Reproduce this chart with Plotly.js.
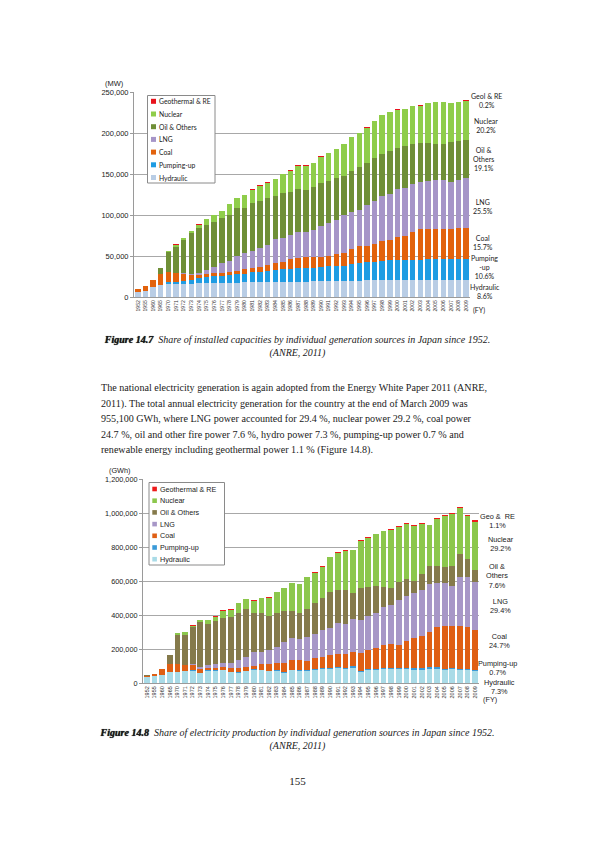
<!DOCTYPE html>
<html>
<head>
<meta charset="utf-8">
<script src="https://cdn.plot.ly/plotly-3.0.1.min.js"></script>
<style>
body{margin:0;width:595px;height:842px;background:#fff;position:relative;overflow:hidden;font-family:"Liberation Serif",serif;color:#1a1a1a}
.plot{position:absolute;left:0;width:595px}
.cap{position:absolute;left:0;width:595px;text-align:center;font-size:10px;line-height:13px;font-style:italic}
.cap b{font-weight:bold;text-shadow:0 0 0.7px #000}
.para{position:absolute;left:101px;font-size:10.1px;line-height:15.5px;white-space:nowrap}
.pageno{position:absolute;left:0;width:595px;text-align:center;font-size:11px}
</style>
</head>
<body>
<div id="plot1" class="plot" style="top:0;height:345px"></div>
<div class="cap" style="top:333px"><b>Figure 14.7</b>&nbsp; Share of installed capacities by individual generation sources in Japan since 1952.<br>(ANRE, 2011)</div>
<div class="para" style="top:380px">The national electricity generation is again adopted from the Energy White Paper 2011 (ANRE,<br>2011). The total annual electricity generation for the country at the end of March 2009 was<br>955,100 GWh, where LNG power accounted for 29.4 %, nuclear power 29.2 %, coal power<br>24.7 %, oil and other fire power 7.6 %, hydro power 7.3 %, pumping-up power 0.7 % and<br>renewable energy including geothermal power 1.1 % (Figure 14.8).</div>
<div id="plot2" class="plot" style="top:455px;height:265px"></div>
<div class="cap" style="top:727px;line-height:12.5px"><b>Figure 14.8</b>&nbsp; Share of electricity production by individual generation sources in Japan since 1952.<br>(ANRE, 2011)</div>
<div class="pageno" style="top:775px">155</div>
<script>
// fiscal years on the category axis (same for both charts)
var years = ['1952','1955','1960','1965',
   '1970','1971','1972','1973','1974','1975','1976','1977','1978','1979',
   '1980','1981','1982','1983','1984','1985','1986','1987','1988','1989',
   '1990','1991','1992','1993','1994','1995','1996','1997','1998','1999',
   '2000','2001','2002','2003','2004','2005','2006','2007','2008','2009'];

var sources = ['Hydraulic','Pumping-up','Coal','LNG','Oil & Others','Nuclear','Geothermal & RE'];

// installed capacity, MW (Figure 14.7)
var capHydraulic = [5700,7700,11800,14600,
   15800,15800,16200,16200,16600,16600,16800,17000,17000,17400,
   17800,17800,18200,18200,18600,18600,18600,18600,18800,19000,
   19000,19200,19400,19600,19800,20000,20200,20300,20400,20400,
   20500,20500,20500,20500,20600,20600,20600,20600,20600,20700];
var capPumping = [0,0,0,0,
   2800,2800,3300,4800,6100,7700,8300,8500,9400,10200,
   10600,12200,12600,13400,13800,15100,15900,16700,16900,16700,
   17000,18100,18300,18400,20200,22000,22300,22200,23600,24200,
   24100,24500,24500,24900,25200,25200,25600,25600,26000,25600];
var capCoal = [3600,5300,8500,13000,
   11400,10200,8100,5800,4100,4100,3700,4100,4000,4000,
   5300,4900,6100,7300,8600,9300,11300,11700,12600,13300,
   12700,12700,14300,16000,18000,20000,20000,22500,24000,24400,
   28800,29600,34000,37300,37700,37700,37300,37300,37400,37700];
var capLNG = [0,0,0,0,
   0,800,1600,1600,2800,4400,8100,11400,13400,17900,
   20300,21100,22300,25100,29200,29200,29600,31700,31200,33000,
   37300,40400,41700,46600,45800,44600,49500,52600,54900,57000,
   58400,58800,58900,58000,58500,59200,59200,56500,58700,61200];
var capOil = [400,300,500,8100,
   25000,31600,40100,49900,54700,54800,54700,55500,56800,59200,
   54700,59200,58000,56800,53100,55100,52700,52700,51500,52000,
   53500,51600,51900,47400,49900,52400,52000,51900,52100,52000,
   50200,50300,48100,47000,46000,44300,44300,49000,47900,45800];
var capNuclear = [0,0,0,0,
   1300,2800,2100,2400,4100,7000,8100,8100,12900,12000,
   15500,15800,18600,18700,20200,22700,25900,28800,29200,29600,
   31500,33100,34900,38500,40900,40600,42600,45100,46600,47600,
   46300,45400,46400,45800,48300,50500,50500,47500,47300,48500];
var capGeo = [0,0,0,0,
   100,100,100,200,200,200,200,200,200,300,
   300,300,300,300,300,300,300,300,400,400,
   400,400,400,400,400,400,400,400,400,400,
   400,400,400,500,500,500,500,500,500,500];
var capShareLabels = ['Geol & RE<br>0.2%','Nuclear<br>20.2%','Oil &<br>Others<br>19.1%',
   'LNG<br>25.5%','Coal<br>15.7%','Pumping<br>-up<br>10.6%','Hydraulic<br>8.6%'];

// electricity generated, GWh (Figure 14.8)
var genHydraulic = [34000,40000,50000,66000,
   65000,69000,73000,58000,72000,72000,74000,63000,59000,69000,
   77000,75000,69000,73000,59000,74000,73000,69000,79000,82000,
   82000,86000,82000,91000,62000,76000,78000,82000,82000,80000,
   80000,79000,79000,83000,83000,76000,80000,74000,74000,70000];
var genPumping = [0,0,0,0,
   1000,1000,2000,2000,2000,2000,2000,3000,3000,3000,
   3000,3000,3000,3000,3000,5000,6000,6000,6000,7000,
   7000,7000,7000,8000,8000,7000,7000,7000,7000,7000,
   7000,8000,8000,10000,10000,9000,9000,8000,8000,7000];
var genCoal = [10000,13000,31000,46000,
   47000,35000,28000,25000,15000,17000,19000,21000,27000,21000,
   19000,31000,39000,41000,54000,59000,55000,57000,63000,65000,
   73000,75000,79000,82000,107000,114000,118000,137000,143000,139000,
   159000,178000,192000,206000,235000,249000,245000,256000,246000,236000];
var genLNG = [0,0,0,0,
   0,2000,6000,10000,14000,18000,24000,32000,49000,61000,
   82000,74000,82000,96000,126000,127000,127000,140000,143000,157000,
   163000,186000,180000,193000,191000,196000,210000,220000,224000,261000,
   265000,262000,269000,284000,261000,255000,239000,286000,296000,281000];
var genOil = [1000,1000,2000,50000,
   172000,178000,219000,265000,245000,255000,264000,270000,275000,282000,
   232000,230000,200000,196000,184000,156000,152000,164000,177000,190000,
   209000,196000,202000,156000,192000,173000,157000,120000,104000,108000,
   102000,72000,96000,104000,102000,91000,116000,136000,103000,73000];
var genNuclear = [0,0,0,0,
   10000,13000,9000,10000,20000,26000,40000,40000,56000,56000,
   71000,85000,109000,124000,131000,165000,169000,185000,181000,183000,
   205000,216000,226000,251000,276000,288000,304000,327000,339000,322000,
   325000,325000,291000,240000,274000,304000,305000,268000,256000,279000];
var genGeo = [0,0,0,3000,
   2000,4000,3000,2000,2000,3000,4000,4000,3000,3000,
   3000,3000,3000,3000,3000,3000,3000,3000,3000,3000,
   3000,4000,4000,4000,4000,4000,4000,4000,4000,4000,
   4000,4000,5000,5000,6000,7000,7000,8000,8000,10000];
var genShareLabels = ['Geo &\u00a0 RE<br>1.1%','Nuclear<br>29.2%','Oil &<br>Others<br>7.6%',
   'LNG<br>29.4%','Coal<br>24.7%','Pumping-up<br>0.7%','Hydraulic<br>7.3%'];

var capColors = ['#b9cde5','#1f9ce3','#e2620c','#a695c8','#6f8f37','#8fcd4a','#e8121c'];
var genColors = ['#a9dbe7','#3a9ad8','#df5f14','#a797c7','#857a4b','#8cc74c','#ee1b1b'];

var W = 595;

function toPaper(m, H, x, y) {
   return [(x - m.l) / (W - m.l - m.r), 1 - (y - m.t) / (H - m.t - m.b)];
}

function makeTraces(series, colors) {
   var traces = [];
   for (var i = 0; i < series.length; i++) {
      traces.push({
         type: 'bar',
         name: sources[i],
         x: years,
         y: series[i],
         marker: {color: colors[i], line: {width: 0}},
         hoverinfo: 'none',
         showlegend: false
      });
   }
   return traces;
}

// text placed by pixel position inside the chart div
function label(m, H, x, y, text, font, xanchor) {
   var p = toPaper(m, H, x, y);
   return {xref: 'paper', yref: 'paper', x: p[0], y: p[1],
      xanchor: xanchor || 'center', yanchor: 'middle',
      text: text, showarrow: false, font: font, borderpad: 0};
}

// legend drawn as a box with swatches, listed top to bottom in reverse stack order
function legendBox(colors, m, H, g, font) {
   var shapes = [], annots = [];
   var a = toPaper(m, H, g.x0, g.y0), b = toPaper(m, H, g.x1, g.y1);
   shapes.push({type: 'rect', xref: 'paper', yref: 'paper', layer: 'above',
      x0: a[0], x1: b[0], y0: b[1], y1: a[1],
      fillcolor: '#ffffff', line: {color: '#8a8a8a', width: 1}});
   for (var i = 0; i < sources.length; i++) {
      var k = sources.length - 1 - i;
      var cy = g.first + i * g.step;
      var s0 = toPaper(m, H, g.sx, cy - g.s / 2), s1 = toPaper(m, H, g.sx + g.s, cy + g.s / 2);
      shapes.push({type: 'rect', xref: 'paper', yref: 'paper', layer: 'above',
         x0: s0[0], x1: s1[0], y0: s1[1], y1: s0[1],
         fillcolor: colors[k], line: {width: 0}});
      annots.push(label(m, H, g.tx, cy, sources[k], font, 'left'));
   }
   return {shapes: shapes, annots: annots};
}

function sideLabels(texts, pos, m, H, font) {
   var out = [];
   for (var i = 0; i < texts.length; i++) {
      out.push(label(m, H, pos[i][0], pos[i][1], texts[i], font));
   }
   return out;
}

// ---------- Figure 14.7 : capacity ----------
var m1 = {l: 134, r: 125, t: 92, b: 48};
var H1 = 345;
var lab1 = {family: 'Lato, sans-serif', size: 7, color: '#222'};
var leg1 = legendBox(capColors, m1, H1,
   {x0: 147.5, x1: 215, y0: 95.5, y1: 183, first: 101.3, step: 12.7, sx: 151, s: 5, tx: 157.5},
   {family: 'Lato, sans-serif', size: 6.8, color: '#222'});
var side1 = sideLabels(capShareLabels,
   [[486, 100], [485.5, 125.5], [483.5, 158.5], [483, 206.7], [483, 242], [484, 267], [485, 291]],
   m1, H1, lab1);
side1.push(label(m1, H1, 114, 83.5, '(MW)', {family: 'Liberation Sans, Arial', size: 7.5, color: '#222'}));
side1.push(label(m1, H1, 478.5, 310, '(FY)', lab1));

Plotly.newPlot('plot1',
   makeTraces([capHydraulic, capPumping, capCoal, capLNG, capOil, capNuclear, capGeo], capColors),
   {
      width: W, height: H1,
      margin: m1,
      barmode: 'stack',
      bargap: 0.28,
      paper_bgcolor: 'rgba(0,0,0,0)',
      plot_bgcolor: '#ffffff',
      showlegend: false,
      xaxis: {
         type: 'category',
         tickangle: -90,
         tickfont: {family: 'Liberation Sans, Arial', size: 5.2, color: '#333'},
         tickmode: 'array', tickvals: years, ticktext: years,
         showline: true, linecolor: '#9a9a9a', linewidth: 1,
         ticks: '', showgrid: false, fixedrange: true
      },
      yaxis: {
         range: [0, 250000],
         tickvals: [0, 50000, 100000, 150000, 200000, 250000],
         tickformat: ',d',
         tickfont: {family: 'Liberation Sans, Arial', size: 7.5, color: '#222'},
         showline: true, linecolor: '#9a9a9a', linewidth: 1,
         ticks: 'outside', ticklen: 3, tickcolor: '#9a9a9a',
         gridcolor: '#a8a8a8', gridwidth: 1, zeroline: false, fixedrange: true
      },
      shapes: leg1.shapes,
      annotations: leg1.annots.concat(side1)
   },
   {staticPlot: true, displayModeBar: false});

// ---------- Figure 14.8 : generation ----------
var m2 = {l: 143, r: 116, t: 24, b: 37};
var H2 = 265;
var lab2 = {family: 'Liberation Sans, Arial', size: 7.3, color: '#222'};
var leg2 = legendBox(genColors, m2, H2,
   {x0: 149, x1: 224.5, y0: 27.5, y1: 110, first: 34, step: 11.7, sx: 152.3, s: 4.6, tx: 158.8},
   {family: 'Liberation Sans, Arial', size: 7.2, color: '#222'});
var side2 = sideLabels(genShareLabels,
   [[497, 65.8], [501, 88.5], [497, 120.7], [500, 150.8], [499, 185.8], [497, 213.3], [499, 232.2]],
   m2, H2, lab2);
side2.push(label(m2, H2, 119, 16, '(GWh)', lab2));
side2.push(label(m2, H2, 490, 244.5, '(FY)', lab2));

Plotly.newPlot('plot2',
   makeTraces([genHydraulic, genPumping, genCoal, genLNG, genOil, genNuclear, genGeo], genColors),
   {
      width: W, height: H2,
      margin: m2,
      barmode: 'stack',
      bargap: 0.25,
      paper_bgcolor: 'rgba(0,0,0,0)',
      plot_bgcolor: '#ffffff',
      showlegend: false,
      xaxis: {
         type: 'category',
         tickangle: -90,
         tickfont: {family: 'Liberation Sans, Arial', size: 5.5, color: '#333'},
         tickmode: 'array', tickvals: years, ticktext: years,
         showline: true, linecolor: '#9a9a9a', linewidth: 1,
         ticks: '', showgrid: false, fixedrange: true
      },
      yaxis: {
         range: [0, 1200000],
         tickvals: [0, 200000, 400000, 600000, 800000, 1000000, 1200000],
         tickformat: ',d',
         tickfont: {family: 'Liberation Sans, Arial', size: 7.3, color: '#222'},
         showline: true, linecolor: '#9a9a9a', linewidth: 1,
         ticks: 'outside', ticklen: 3, tickcolor: '#9a9a9a',
         gridcolor: '#a8a8a8', gridwidth: 1, zeroline: false, fixedrange: true
      },
      shapes: leg2.shapes,
      annotations: leg2.annots.concat(side2)
   },
   {staticPlot: true, displayModeBar: false});
</script>
</body>
</html>
